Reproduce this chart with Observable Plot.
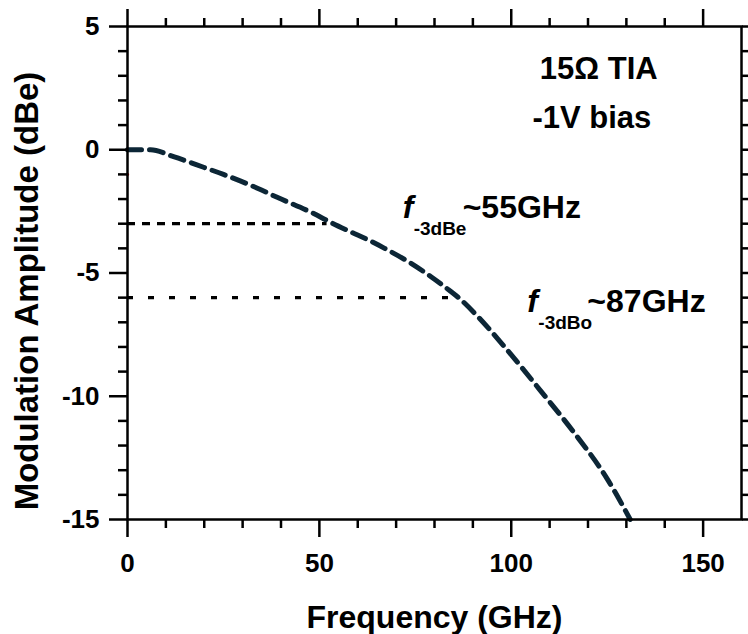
<!DOCTYPE html>
<html><head><meta charset="utf-8">
<script src="https://cdn.jsdelivr.net/npm/d3@7"></script>
<script src="https://cdn.jsdelivr.net/npm/@observablehq/plot@0.6"></script>
<style>
body{margin:0;background:#fff}
svg{font-family:"Liberation Sans",Arial,sans-serif}
</style>
</head><body><div id="chart"></div>
<script>
// measured response
const freqGHz      = [0, 6, 12, 20, 25, 34, 39, 48, 53, 58, 63, 67, 74, 79, 83, 87, 91, 98, 107.5, 116, 125, 131];
const amplitudeDBe = [0, 0, -0.28, -0.72, -1.0, -1.57, -1.93, -2.55, -2.95, -3.32, -3.68, -4.0, -4.62, -5.14, -5.6, -6.1, -6.72, -7.95, -9.75, -11.4, -13.35, -15];

// reference levels (electrical / optical) and where they meet the curve
const refLevels  = [-3, -6];
const refEndFreq = [52, 87];

// stray marker on the y axis
const markerFreq = [0];
const markerAmp  = [-1];

// ticks
const xMajorTicks = [0, 50, 100, 150];
const xMinorTicks = [10, 20, 30, 40, 60, 70, 80, 90, 110, 120, 130, 140];
const yMajorTicks = [5, 0, -5, -10, -15];
const yMinorTicks = [4, 3, 2, 1, -1, -2, -3, -4, -6, -7, -8, -9, -11, -12, -13, -14];

// texts
const xTitle = "Frequency (GHz)";
const yTitle = "Modulation Amplitude (dBe)";
const noteLines = ["15Ω TIA", "-1V bias"];
const bwSymbol = ["f", "f"];
const bwSubscripts = ["-3dBe", "-3dBo"];
const bwValues = ["~55GHz", "~87GHz"];

const curve = freqGHz.map((f, i) => ({f, a: amplitudeDBe[i]}));
const refs = refLevels.map((lv, i) => ({lv, end: refEndFreq[i]}));
const marker = markerFreq.map((f, i) => ({f, a: markerAmp[i]}));
const notes = noteLines.map((t, i) => ({t, x: [122.8, 121][i], y: [2.85, 0.9][i]}));
const bw = bwSymbol.map((s, i) => ({s, sub: bwSubscripts[i], val: bwValues[i],
  x: [71.7, 104.2][i], y: [-2.75, -6.6][i]}));

const ink = "#000";
const curveColor = "#0c2636";
const bold = "bold";

const chart = Plot.plot({
  width: 748,
  height: 634,
  marginLeft: 127,
  marginRight: 7,
  marginTop: 26,
  marginBottom: 115,
  x: {domain: [0, 160]},
  y: {domain: [-15, 5]},
  marks: [
    // dotted reference lines
    Plot.ruleY(refs.slice(0,1), {y: "lv", x1: 0, x2: "end", stroke: ink, strokeWidth: 3.3, strokeDasharray: "8,7"}),
    Plot.ruleY(refs.slice(1), {y: "lv", x1: 0, x2: "end", stroke: ink, strokeWidth: 3.3, strokeDasharray: "6,15"}),
    // response curve
    Plot.line(curve, {x: "f", y: "a", stroke: curveColor, strokeWidth: 5, strokeDasharray: "14,8", curve: "monotone-x"}),
    Plot.dot(marker, {x: "f", y: "a", r: 1.6, fill: "#e21b1b", stroke: null}),
    // axes: bottom
    Plot.axisX({anchor: "bottom", ticks: xMajorTicks, tickSize: 18, tickPadding: 16, strokeWidth: 2.5,
      fontSize: 26, fontWeight: bold, fill: ink, tickFormat: d => `${d}`, label: null}),
    Plot.axisX({anchor: "bottom", ticks: xMinorTicks, tickSize: 9, strokeWidth: 2.5, tickFormat: () => "", label: null}),
    // top
    Plot.axisX({anchor: "top", ticks: xMajorTicks, tickSize: 18, strokeWidth: 2.5, tickFormat: () => "", label: null}),
    Plot.axisX({anchor: "top", ticks: xMinorTicks, tickSize: 9, strokeWidth: 2.5, tickFormat: () => "", label: null}),
    // left
    Plot.axisY({anchor: "left", ticks: yMajorTicks, tickSize: 18, tickPadding: 10, strokeWidth: 2.5,
      fontSize: 26, fontWeight: bold, fill: ink, tickFormat: d => `${d}`, label: null}),
    Plot.axisY({anchor: "left", ticks: yMinorTicks, tickSize: 9, strokeWidth: 2.5, tickFormat: () => "", label: null}),
    // right
    Plot.axisY({anchor: "right", ticks: yMajorTicks, tickSize: 18, strokeWidth: 2.5, tickFormat: () => "", label: null}),
    Plot.axisY({anchor: "right", ticks: yMinorTicks, tickSize: 9, strokeWidth: 2.5, tickFormat: () => "", label: null}),
    Plot.frame({stroke: ink, strokeWidth: 2.5}),
    // axis titles
    Plot.text([xTitle], {frameAnchor: "bottom", dy: 108, textAnchor: "middle", lineAnchor: "bottom", fontSize: 32, fontWeight: bold, fill: ink}),
    Plot.text([yTitle], {frameAnchor: "left", dx: -90, dy: 18, rotate: -90, textAnchor: "middle", lineAnchor: "bottom", fontSize: 33, fontWeight: bold, fill: ink}),
    // notes
    Plot.text(notes, {x: "x", y: "y", text: "t", lineAnchor: "bottom", fontSize: 31, fontWeight: bold, fill: ink}),
    // bandwidth annotations
    Plot.text(bw, {x: "x", y: "y", text: "s", textAnchor: "start", lineAnchor: "bottom", fontSize: 32, fontWeight: bold, fontStyle: "italic", fill: ink}),
    Plot.text(bw, {x: "x", y: "y", text: "sub", textAnchor: "start", lineAnchor: "bottom", dx: 11, dy: 17, fontSize: 19, fontWeight: bold, fill: ink}),
    Plot.text(bw, {x: "x", y: "y", text: "val", textAnchor: "start", lineAnchor: "bottom", dx: 60, fontSize: 32, fontWeight: bold, fill: ink})
  ]
});
document.getElementById("chart").append(chart);
</script>
</body></html>
